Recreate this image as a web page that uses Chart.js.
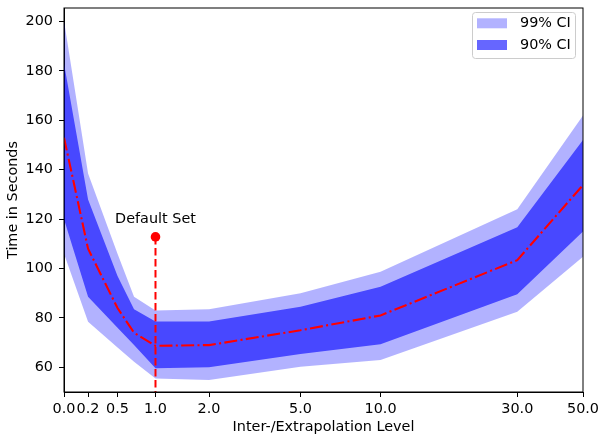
<!DOCTYPE html>
<html>
<head>
<meta charset="utf-8">
<script src="https://cdn.jsdelivr.net/npm/chart.js@4.4.0/dist/chart.umd.min.js"></script>
<style>
  body { margin: 0; background: #fff; }
  #wrap { width: 601px; height: 436px; }
</style>
</head>
<body>
<div id="wrap"><canvas id="chart" width="601" height="436"></canvas></div>
<script>
// inter-/extrapolation levels and timings (seconds)
const levels = [0, 0.2, 0.5, 0.7, 1, 2, 5, 10, 30, 50];
const meanTime = [153, 108, 84, 74, 68.7, 69, 75, 81, 103.4, 133.8];
const ci90Upper = [183, 128, 97, 83.5, 78.5, 78.5, 84.5, 92.6, 116.7, 152];
const ci90Lower = [120, 88.6, 76, 69, 59.6, 60, 65.4, 69.3, 89.6, 115];
const ci99Upper = [200.3, 138.5, 106, 88.6, 83, 83.5, 90, 98.7, 124, 162];
const ci99Lower = [106, 78.4, 68, 62.3, 55.5, 54.9, 60.2, 63, 82.5, 104.8];

const tickLevels = [0, 0.2, 0.5, 1, 2, 5, 10, 30, 50];
const tickLabels = ['0.0', '0.2', '0.5', '1.0', '2.0', '5.0', '10.0', '30.0', '50.0'];
const yTicks = [60, 80, 100, 120, 140, 160, 180, 200];

const defaultLevel = 1.0;
const defaultTime = 112.8;
const defaultLabel = 'Default Set';
const defaultLabelAt = 118.4;

// x axis is drawn on log(1 + level)
const tx = v => Math.log1p(v);
const pts = arr => arr.map((y, i) => ({ x: tx(levels[i]), y: y }));

Chart.defaults.font.family = 'DejaVu Sans';
Chart.defaults.font.size = 14.4;
Chart.defaults.color = '#000';

const light = 'rgba(0, 0, 255, 0.3)';
const dark = 'rgba(0, 0, 255, 0.6)';

const extras = {
  id: 'extras',
  afterDraw(chart) {
    const ctx = chart.ctx;
    const a = chart.chartArea;
    const xs = chart.scales.x, ys = chart.scales.y;
    ctx.save();
    // frame
    ctx.strokeStyle = '#000';
    ctx.lineWidth = 1;
    ctx.strokeRect(a.left, a.top, a.right - a.left, a.bottom - a.top);

    // annotation text
    ctx.fillStyle = '#000';
    ctx.font = '14.4px DejaVu Sans';
    ctx.textAlign = 'center';
    ctx.textBaseline = 'alphabetic';
    ctx.fillText(defaultLabel, xs.getPixelForValue(tx(defaultLevel)), ys.getPixelForValue(defaultLabelAt));

    // legend
    const bx = 472.5, by = 12.5, bw = 103, bh = 46;
    ctx.beginPath();
    ctx.roundRect(bx, by, bw, bh, 3);
    ctx.fillStyle = 'rgba(255,255,255,0.8)';
    ctx.fill();
    ctx.strokeStyle = '#cccccc';
    ctx.stroke();
    const items = [['99% CI', light, 23.3], ['90% CI', dark, 45]];
    ctx.textAlign = 'left';
    ctx.textBaseline = 'middle';
    items.forEach(([txt, col, cy]) => {
      ctx.fillStyle = col;
      ctx.fillRect(477, cy - 5, 30, 10);
      ctx.fillStyle = '#000';
      ctx.fillText(txt, 520, cy);
    });
    ctx.restore();
  }
};

new Chart(document.getElementById('chart'), {
  type: 'line',
  data: {
    datasets: [
      {
        data: pts(meanTime), borderColor: '#ff0000', borderWidth: 2.1,
        borderDash: [13, 3.3, 2.1, 3.3], pointRadius: 0, fill: false, order: 0
      },
      {
        type: 'scatter', data: [{ x: tx(defaultLevel), y: defaultTime }],
        pointRadius: 4.8, pointBackgroundColor: '#ff0000', pointBorderWidth: 0, order: 0
      },
      {
        data: [{ x: tx(defaultLevel), y: defaultTime }, { x: tx(defaultLevel), y: 50 }],
        borderColor: '#ff0000', borderWidth: 2, borderDash: [7.7, 3.3], pointRadius: 0, fill: false, order: 1
      },
      {
        data: pts(ci90Upper), borderWidth: 0, pointRadius: 0, backgroundColor: dark, fill: '+1', order: 2
      },
      {
        data: pts(ci90Lower), borderWidth: 0, pointRadius: 0, fill: false, order: 2
      },
      {
        data: pts(ci99Upper), borderWidth: 0, pointRadius: 0, backgroundColor: light, fill: '+1', order: 3
      },
      {
        data: pts(ci99Lower), borderWidth: 0, pointRadius: 0, fill: false, order: 3
      }
    ]
  },
  options: {
    responsive: false,
    animation: false,
    devicePixelRatio: 1,
    layout: { padding: { top: 8, right: 18, left: 0, bottom: 0 } },
    plugins: { legend: { display: false }, tooltip: { enabled: false } },
    scales: {
      x: {
        type: 'linear',
        min: 0,
        max: tx(50),
        afterBuildTicks: s => { s.ticks = tickLevels.map(v => ({ value: tx(v) })); },
        afterFit: s => { s.height = 44; s.paddingLeft = 0; s.paddingRight = 0; },
        ticks: {
          callback: (v, i) => tickLabels[i],
          autoSkip: false, maxRotation: 0, minRotation: 0, padding: 4, color: '#000'
        },
        grid: { drawOnChartArea: false, tickLength: 5, color: '#000' },
        border: { color: '#000' },
        title: { display: true, text: 'Inter-/Extrapolation Level', color: '#000', padding: { top: 0, bottom: 0 } }
      },
      y: {
        min: 50,
        max: 205.5,
        afterBuildTicks: s => { s.ticks = yTicks.map(v => ({ value: v })); },
        afterFit: s => { s.width = 64; s.paddingTop = 0; s.paddingBottom = 0; },
        ticks: { padding: 6, color: '#000' },
        grid: { drawOnChartArea: false, tickLength: 5, color: '#000' },
        border: { color: '#000' },
        title: { display: true, text: 'Time in Seconds', color: '#000', padding: { top: 5, bottom: 0 } }
      }
    }
  },
  plugins: [extras]
});
</script>
</body>
</html>
